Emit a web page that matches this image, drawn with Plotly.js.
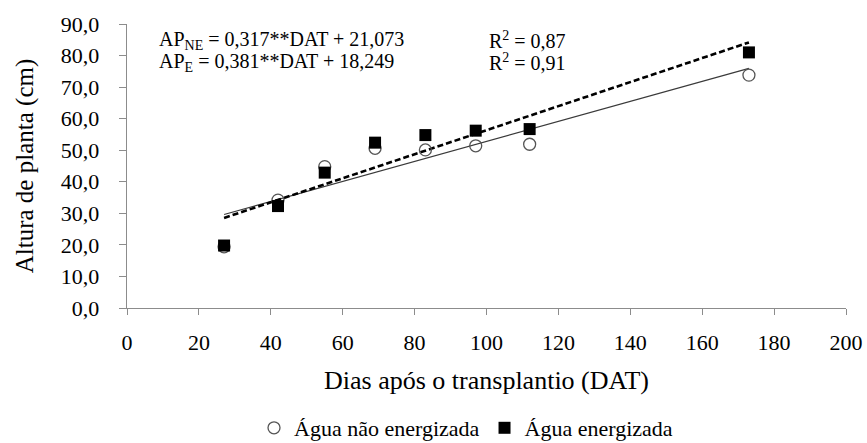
<!DOCTYPE html>
<html>
<head>
<meta charset="utf-8">
<script src="https://cdn.plot.ly/plotly-3.0.1.min.js"></script>
<style>
html,body{margin:0;padding:0;background:#fff;}
#chart{width:867px;height:443px;}
</style>
</head>
<body>
<div id="chart"></div>
<script>
// Days after transplanting (DAT)
const dat = [27, 42, 55, 69, 83, 97, 112, 173];
// Plant height (cm) — non-energized water (open circles)
const alturaNaoEnergizada = [19.4, 34.2, 44.8, 50.6, 50.1, 51.4, 51.9, 73.8];
// Plant height (cm) — energized water (filled squares)
const alturaEnergizada = [19.8, 32.3, 42.9, 52.4, 54.8, 56.2, 56.7, 81.0];
// Regression coefficients stated on the chart
const slopeNE = 0.317, interceptNE = 21.073;
const slopeE = 0.381, interceptE = 18.249;
// Axis ticks
const xTickVals = [0, 20, 40, 60, 80, 100, 120, 140, 160, 180, 200];
const yTickVals = [0, 10, 20, 30, 40, 50, 60, 70, 80, 90];
const yTickText = ["0,0", "10,0", "20,0", "30,0", "40,0", "50,0", "60,0", "70,0", "80,0", "90,0"];
const seriesNames = ["Água não energizada", "Água energizada"];

const xMin = Math.min(...dat), xMax = Math.max(...dat);
const fitX = [xMin, xMax];
const fitNE = fitX.map(x => slopeNE * x + interceptNE);
const fitE = fitX.map(x => slopeE * x + interceptE);

const FONT = "Liberation Serif, Times New Roman, serif";
const axisColor = "#8c8c8c";

const traces = [
  {x: fitX, y: fitNE, mode: "lines", showlegend: false, hoverinfo: "skip",
   line: {color: "#3a3a3a", width: 1.2}},
  {x: fitX, y: fitE, mode: "lines", showlegend: false, hoverinfo: "skip",
   line: {color: "#000", width: 2.6, dash: "6px,3px"}},
  {x: dat, y: alturaNaoEnergizada, mode: "markers", name: seriesNames[0],
   marker: {symbol: "circle-open", size: 12, color: "#555", line: {width: 1.3, color: "#555"}}},
  {x: dat, y: alturaEnergizada, mode: "markers", name: seriesNames[1],
   marker: {symbol: "square", size: 12, color: "#000"}}
];

const layout = {
  width: 867, height: 443,
  margin: {l: 127, r: 21, t: 24, b: 135, autoexpand: false},
  paper_bgcolor: "#fff", plot_bgcolor: "#fff",
  font: {family: FONT, color: "#000", size: 21},
  showlegend: true,
  legend: {orientation: "h", x: 0.4715, xanchor: "center", y: -0.4225, yanchor: "middle",
           font: {family: FONT, size: 22, color: "#000"}, itemwidth: 30, tracegroupgap: 0},
  xaxis: {
    range: [0, 200], tickvals: xTickVals, ticks: "outside", ticklen: 6, tickcolor: axisColor,
    showline: true, linecolor: axisColor, linewidth: 1.3, showgrid: false, zeroline: false,
    tickfont: {family: FONT, size: 22, color: "#000"}, ticklabelstandoff: 8,
    title: {text: "Dias após o transplantio (DAT)", font: {family: FONT, size: 26, color: "#000"}, standoff: 17},
    fixedrange: true
  },
  yaxis: {
    range: [0, 90], tickvals: yTickVals, ticktext: yTickText, ticks: "outside", ticklen: 7, tickcolor: axisColor,
    showline: true, linecolor: axisColor, linewidth: 1.3, showgrid: false, zeroline: false,
    tickfont: {family: FONT, size: 22, color: "#000"}, ticklabelstandoff: 15,
    title: {text: "Altura de planta (cm)", font: {family: FONT, size: 25, color: "#000"}, standoff: 20},
    fixedrange: true
  },
  annotations: [
    {xref: "paper", yref: "paper", x: 0.0417, y: 0.942, xanchor: "left", yanchor: "middle", showarrow: false,
     text: "AP<sub>NE</sub> = 0,317**DAT + 21,073", font: {family: FONT, size: 20, color: "#000"}},
    {xref: "paper", yref: "paper", x: 0.5007, y: 0.942, xanchor: "left", yanchor: "middle", showarrow: false,
     text: "R<sup>2</sup> = 0,87", font: {family: FONT, size: 20, color: "#000"}},
    {xref: "paper", yref: "paper", x: 0.0417, y: 0.866, xanchor: "left", yanchor: "middle", showarrow: false,
     text: "AP<sub>E</sub> = 0,381**DAT + 18,249", font: {family: FONT, size: 20, color: "#000"}},
    {xref: "paper", yref: "paper", x: 0.5007, y: 0.866, xanchor: "left", yanchor: "middle", showarrow: false,
     text: "R<sup>2</sup> = 0,91", font: {family: FONT, size: 20, color: "#000"}}
  ]
};

Plotly.newPlot("chart", traces, layout, {displayModeBar: false, staticPlot: true});
</script>
</body>
</html>
